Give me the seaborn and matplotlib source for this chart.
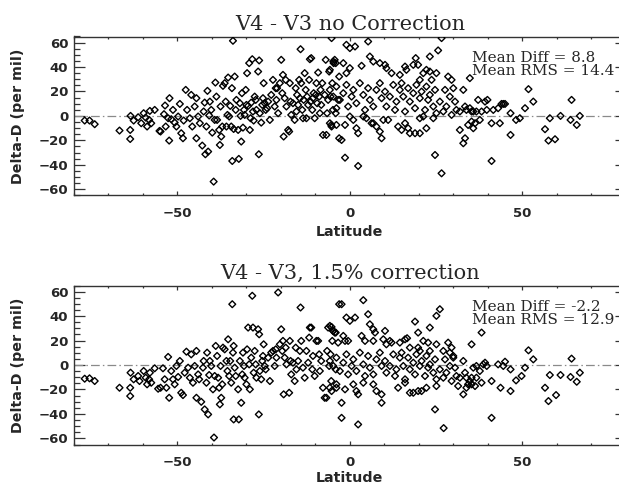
import matplotlib
matplotlib.use("Agg")
import matplotlib.pyplot as plt
import seaborn as sns
import pandas as pd
from matplotlib.ticker import MultipleLocator

# ---------------- data ----------------
lat_top = [
    -76.9, -75.5, -74.0, -66.8, -63.7, -63.7, -63.6, -62.7, -61.4, -60.5,
    -59.8, -59.2, -58.8, -58.2, -57.6, -56.6, -58.0, -55.2, -54.9, -53.9,
    -53.6, -53.4, -52.7, -52.4, -52.3, -51.8, -51.3, -50.8, -50.3, -49.8,
    -49.3, -48.9, -48.4, -48.2, -47.6, -47.2, -46.4, -46.0, -45.7, -45.0,
    -44.5, -44.5, -44.0, -43.5, -42.8, -42.4, -42.1, -41.9, -41.6, -41.3,
    -41.1, -40.8, -40.6, -40.2, -39.9, -39.5, -39.2, -39.0, -38.7, -38.5,
    -37.9, -37.7, -37.5, -37.3, -37.0, -36.8, -36.3, -36.0, -35.8, -35.5,
    -35.3, -35.0, -34.7, -34.4, -34.2, -34.1, -33.9, -33.7, -33.4, -33.1,
    -32.9, -32.4, -32.2, -31.9, -31.7, -31.5, -31.3, -31.0, -30.7, -30.5,
    -30.2, -30.0, -29.8, -29.5, -29.2, -29.0, -28.8, -28.6, -28.3, -28.1,
    -27.9, -27.6, -27.3, -27.1, -26.6, -26.4, -26.3, -26.1, -25.7, -25.4,
    -25.2, -25.0, -24.7, -24.4, -24.0, -23.7, -23.2, -22.8, -22.3, -21.8,
    -21.5, -21.3, -21.1, -20.8, -20.3, -19.9, -19.6, -19.4, -19.2, -18.9,
    -18.6, -18.4, -17.9, -17.6, -17.4, -17.2, -17.0, -16.5, -16.0, -15.7,
    -15.5, -15.3, -15.0, -14.7, -14.5, -14.3, -14.1, -13.8, -13.6, -13.4,
    -13.1, -12.8, -12.6, -12.4, -12.1, -11.8, -11.6, -11.4, -11.2, -10.9,
    -10.7, -10.5, -10.2, -9.9, -9.7, -9.5, -9.2, -8.9, -8.7, -8.5,
    -8.3, -8.0, -7.8, -7.3, -7.0, -6.8, -6.6, -6.3, -6.0, -5.8,
    -5.6, -5.4, -5.1, -4.9, -4.7, -4.4, -4.1, -3.9, -3.4, -3.1,
    -3.1,
    -5.3, -1.0, 0.0, 1.5, 5.3, 26.6, 25.6, 23.2, -4.8, -4.1,
    -1.9, -1.0, 0.0, 3.4, 5.8, 6.8, 8.7, 10.2, 10.6, 12.1,
    14.5, 16.0, 16.4, 18.4, 19.1, 19.8, 21.3, 20.3, 22.2, 23.2,
    23.7, 25.1, 28.5, 29.5, 34.8,
    -5.8, -4.8, -3.9, -2.9, -1.9, -1.0, -0.5, 0.5, 1.0, 1.9,
    2.9, 3.9, 4.4, 5.3, 5.8, 6.8, 7.7, 8.7, 9.2, 10.2,
    10.6, 11.6, 12.6, 13.1, 13.5, 14.5, 15.0, 15.5, 16.0, 16.9,
    17.4, 18.4, 18.9, 19.3, 20.3, 20.8, 21.8, 22.2, 22.7, 23.2,
    24.2, 24.7, 25.1, 26.1, 27.1, 27.6, 28.0, 29.0, 29.5, 30.0,
    30.5, 30.9, 31.9, 32.9, 33.4, 33.8, 34.8, 35.3, 35.8, 36.7,
    37.2,
    -5.8, -5.3, -3.9, -2.4, -1.4, 0.0, 1.0, 1.9, 2.4, 3.9,
    4.8, 6.3, 6.8, 7.7, 8.7, 9.2, 9.7, 11.1, 14.0, 15.0,
    16.0, 17.4, 16.9, 18.9, 20.3, 22.2, 20.3, 21.3, 24.2, 31.9,
    32.9, 33.4, 34.3, 35.3, 35.8, 36.3, 37.7, -1.4, 2.4, 24.7,
    26.6,
    38.2, 39.2, 39.7, 39.9, 41.1, 41.6, 43.0, 43.5, 44.0, 44.5,
    45.0, 46.6, 46.6, 48.2, 49.3, 50.8, 51.8, 53.2, 56.6, 57.6,
    58.0, 59.5, 61.1, 64.3, 64.0, 65.8, 66.7, 41.1,
]
dd_top = [
    -3.8, -3.8, -6.8, -12.0, -11.5, -18.9, 0.0, -3.8, -1.1, -6.0,
    2.2, -1.4, -8.7, -3.3, -6.0, 4.9, 4.1, -12.3, -12.8, 1.4,
    8.5, -8.7, -1.9, -20.2, 14.5, -2.7, 4.9, -5.5, -8.7, -0.5,
    9.8, -14.2, -18.3, -3.8, 21.3, 4.9, -1.9, 17.2, -8.7, 7.7,
    14.5, -18.3, -0.5, -6.0, -24.3, 3.6, 10.9, -31.4, -8.7, 20.5,
    -29.2, 0.3, 11.7, 4.9, -13.7, -53.8, -3.3, 27.3, 15.8, -3.3,
    -11.5, -23.8, 7.7, -16.9, -8.7, 24.6, 26.8, 11.7, -8.7, 0.8,
    31.4, -0.5, 8.2, -8.7, 22.7, -36.9, 61.5, -10.7, 32.2, 4.9,
    13.1, -11.5, -35.2, 10.4, 0.0, -21.0, 18.6, -9.6, 4.9, 0.8,
    21.3, 9.0, 35.0, 8.2, 43.2, -11.5, -1.9, 10.9, 46.4, 3.6,
    -3.8, 15.8, 13.1, 4.9, 36.3, -31.4, 45.4, 2.2, -5.5, 9.0,
    14.5, 26.8, 10.4, 4.9, 6.3, 11.7, -3.3, 17.2, 29.5, 7.7,
    22.7, 13.1, 22.7, 2.2, 26.8, 45.9, 18.6, 33.6, -16.9, 14.5,
    29.5, 7.7, -11.5, -12.8, 26.8, 11.7, 0.8, 10.4, -3.3, 22.7,
    3.6, 17.2, 9.0, 29.5, 14.5, 54.6, 26.8, 4.9, -1.9, 13.1,
    35.0, 21.3, -1.9, 15.8, 9.0, 29.5, 46.4, 11.7, 47.3, 4.9,
    14.5, 18.6, -1.9, 17.2, 26.8, 10.4, 35.5, 15.8, 2.2, 21.3,
    9.0, 26.8, -15.6, 17.2, 45.9, -15.6, 2.2, 13.1, 36.3, 37.7,
    15.8, -7.4, 26.8, 4.9, 43.2, 45.9, 2.2, 6.3, 13.1, -18.3,
    32.2,
    63.7, 58.2, 55.5, 56.8, 60.9, 63.7, 53.6, 48.6, 44.5, 43.2,
    43.2, 35.0, 39.1, 41.0, 48.6, 44.5, 43.2, 41.8, 39.1, 35.0,
    33.6, 40.4, 37.7, 41.8, 47.3, 41.8, 35.0, 29.5, 37.7, 36.3,
    29.5, 35.0, 32.2, 29.5, 30.9,
    21.3, 15.8, 24.0, 13.1, 18.6, 25.4, 7.7, 15.8, 21.3, 10.4,
    26.8, 17.2, 4.9, 22.7, 13.1, 7.7, 21.3, 26.8, 14.5, 19.9,
    7.7, 15.8, 25.4, 4.9, 11.7, 21.3, 26.8, 15.8, 3.6, 22.7,
    11.7, 18.6, 6.3, 25.4, 14.5, 19.9, 4.9, 24.0, 13.1, 17.2,
    7.7, 21.3, 2.2, 11.7, 3.6, 21.3, 7.7, 15.8, 0.8, 22.7,
    11.7, 4.9, 3.6, 21.3, 7.7, 4.9, 6.3, 3.6, 3.6, 3.6,
    13.1,
    -6.0, -8.7, -7.4, -19.7, -7.4, -0.5, -3.3, -10.1, -14.2, -0.5,
    -1.9, -6.0, -6.0, -8.7, -12.8, -18.3, -3.3, -3.3, -8.7, -11.5,
    -6.0, -14.2, -10.1, -14.2, -14.2, -10.1, -1.9, -0.5, -1.9, -11.5,
    -22.4, -18.3, -7.4, -4.6, -10.1, -6.0, -3.3, -34.2, -41.0, -32.0,
    -47.0,
    3.6, 11.7, 4.9, 13.1, -6.0, 4.9, 6.3, -6.0, 9.8, 9.8,
    9.8, 2.2, -15.6, -3.3, -1.9, 6.3, 21.9, 11.7, -10.9, -20.2,
    -1.9, -19.1, 0.0, 13.1, -3.3, -7.4, 0.0, -36.9,
]

lat_bot = [
    -76.9, -75.5, -74.0, -66.8, -63.7, -63.7, -63.6, -62.7, -61.4, -61.0,
    -59.8, -59.2, -58.8, -58.2, -57.6, -56.6, -58.0, -55.6, -54.9, -54.2,
    -53.7, -53.2, -52.7, -52.4, -51.8, -51.3, -50.8, -50.3, -49.8, -49.3,
    -48.9, -48.4, -47.9, -47.4, -46.9, -46.4, -46.0, -45.5, -45.0, -44.5,
    -44.5, -44.0, -43.7, -43.1, -42.6, -42.4, -42.1, -41.6, -41.4, -41.1,
    -40.8, -40.6, -40.2, -39.7, -39.2, -38.9, -38.5, -38.2, -37.9, -37.7,
    -37.5, -37.3, -37.0, -36.8, -36.3, -35.8, -35.5, -35.3, -35.0, -34.7,
    -34.4, -34.1, -33.9, -33.7, -33.7, -33.4, -33.1, -32.4, -32.2, -31.9,
    -31.5, -31.2, -31.0, -30.7, -30.5, -30.0, -29.8, -29.5, -29.2, -29.0,
    -28.6, -28.3, -28.1, -27.9, -27.6, -27.3, -27.1, -26.6, -26.4, -26.3,
    -26.1, -25.7, -25.4, -25.2, -25.0, -24.7, -24.4, -23.7, -23.2, -22.8,
    -22.3, -21.8, -21.5, -21.3, -20.8, -20.3, -19.9, -19.6, -19.4, -19.2,
    -18.9, -18.6, -18.4, -17.6, -17.4, -17.2, -17.0, -16.5, -16.0, -15.7,
    -15.5, -15.0, -14.5, -14.3, -14.1, -13.6, -13.1, -12.6, -12.1, -11.8,
    -11.6, -11.2, -10.9, -10.7, -10.2, -9.7, -9.2, -8.9, -8.7, -8.3,
    -7.8, -7.3, -6.8, -6.6, -6.3, -6.0, -5.8, -5.6, -5.4, -5.1,
    -4.9, -4.4, -4.1, -3.9, -3.4, -3.1,
    -2.4, 3.9, -1.0, 0.0, 1.5, 5.3, 5.8, 6.8, 7.3, 10.2,
    11.6, 18.9, 19.8, 23.2, 25.1, 26.1, -5.3, -4.8, -4.1, -1.9,
    -1.4, -0.5, 3.4, 4.4, 6.8, 9.7, 10.6, 12.1, 14.5, 16.0,
    16.6, 17.4, 19.8, 20.3, 21.3, 22.7, 23.2, 25.1, 27.1, 28.5,
    29.0, 29.5, 30.0, 35.3,
    -5.8, -4.8, -3.9, -2.9, -1.9, -1.0, -0.5, 0.5, 1.0, 1.9,
    2.9, 3.9, 4.4, 5.3, 5.8, 6.8, 7.7, 8.7, 9.2, 10.2,
    10.6, 11.6, 12.6, 13.1, 13.5, 14.5, 15.0, 15.5, 16.0, 16.9,
    17.4, 18.4, 18.9, 19.3, 20.3, 20.8, 21.8, 22.2, 22.7, 23.2,
    24.2, 24.7, 25.1, 26.1, 27.1, 27.6, 28.0, 29.0, 29.5, 30.0,
    30.5, 30.9, 31.9, 32.9, 33.4, 33.8, 34.8, 35.3, 35.8, 36.7,
    37.7,
    -5.8, -5.3, -3.9, -2.4, -1.4, 1.0, 1.9, 2.4, 3.9, 6.8,
    7.7, 9.2, 9.2, 14.0, 16.0, 17.4, 18.4, 19.8, 20.8, 22.2,
    25.1, 31.4, 32.9, 33.8, 34.3, 35.3, 36.3, 36.7, -2.4, 2.4,
    24.7,
    38.2, 38.7, 39.2, 39.7, 38.2, 41.1, 43.0, 43.7, 44.5, 45.0,
    46.6, 46.6, 48.2, 49.8, 50.8, 51.8, 53.2, 56.6, 57.6, 58.0,
    59.8, 61.1, 64.3, 64.0, 65.8, 66.7, 41.1, -39.4, 27.2,
]
dd_bot = [
    -11.2, -10.9, -13.1, -18.6, -18.6, -25.4, -6.3, -11.7, -9.0, -13.1,
    -4.9, -10.4, -15.8, -11.7, -14.5, -2.7, -6.3, -19.4, -18.6, -2.7,
    -11.7, -18.6, 6.6, -26.8, -4.9, -11.7, -15.8, -0.8, -9.8, 3.3,
    -22.7, -24.6, -6.3, 10.9, -2.2, -10.4, 8.7, -14.5, -0.8, 11.5,
    -26.8, -7.7, -11.7, -30.1, -2.2, 3.3, -36.3, -14.5, 10.1, -40.4,
    -8.2, 3.3, -0.8, -19.9, -9.0, 15.6, 7.4, -10.4, -18.6, -32.2,
    -0.8, -26.8, -15.8, 14.2, 12.8, 3.3, -4.9, 21.0, -9.0, 3.3,
    -14.5, 49.7, 10.1, 15.6, -44.5, -2.2, -9.0, -19.9, -44.5, 3.3,
    -30.9, -7.7, 10.1, -0.8, -10.4, -15.8, 12.8, 30.6, 0.5, -19.9,
    6.0, 56.6, 30.6, -6.3, 11.5, 0.5, -10.4, 29.2, -40.4, 25.1,
    -4.9, -11.7, 3.3, 7.4, 16.9, -0.8, -3.6, 6.0, -13.1, 10.1,
    11.5, -0.8, 12.8, 6.0, 59.3, 16.9, 29.2, 11.5, 19.7, -24.0,
    6.0, 14.2, 0.5, -22.7, 19.7, 3.3, -7.7, 1.9, -13.1, 14.2,
    -3.6, 3.3, 11.5, 47.0, 19.7, -2.2, -10.4, 11.5, 1.9, 22.4,
    30.6, 30.6, -3.6, 7.4, -9.0, 19.7, 19.7, 8.7, -4.9, 3.3,
    -18.6, -26.8, -26.8, 11.5, 30.6, -0.8, 32.0, 8.7, -13.1, 19.7,
    27.9, 26.5, -3.6, -18.6, 18.3, 49.7,
    49.7, 53.0, 38.8, 36.1, 38.8, 41.5, 33.3, 29.2, 26.5, 27.9,
    19.7, 35.5, 26.5, 30.6, 40.2, 45.6, 31.1, 27.9, 26.5, 23.8,
    19.7, 19.7, 23.8, 19.7, 19.7, 21.0, 16.9, 18.3, 18.3, 21.0,
    21.9, 14.2, 14.2, 11.5, 19.7, 18.3, 11.5, 16.9, 11.5, 18.3,
    10.1, 14.2, 7.4, 16.9,
    3.3, -0.8, 6.0, -4.9, 1.9, 8.7, -7.7, -0.8, 4.6, -4.9,
    10.1, 0.5, -9.0, 7.4, -2.2, -7.7, 4.6, 10.1, -0.8, 3.3,
    -6.3, -0.8, 8.7, -9.0, -3.6, 6.0, 10.1, -0.8, -11.7, 6.0,
    -3.6, 1.9, -7.7, 8.7, -0.8, 3.3, -9.0, 7.4, -2.2, 0.5,
    -6.3, 4.6, -11.7, -3.6, -10.4, 4.6, -6.3, -0.8, -13.1, 6.0,
    -2.2, -9.0, -10.4, 3.3, -6.3, -10.4, -13.1, -10.4, -2.2, -0.8,
    -4.9,
    -18.6, -21.3, -15.8, -30.9, -19.9, -15.8, -21.3, -24.0, -14.5, -15.8,
    -21.3, -24.0, -30.9, -18.6, -14.5, -22.7, -22.7, -21.3, -21.3, -18.6,
    -17.2, -17.2, -24.0, -18.6, -15.8, -15.8, -17.2, -10.4, -43.2, -48.6,
    -36.3,
    26.5, 0.5, 1.9, -0.8, -14.5, -13.1, 0.5, -18.6, -0.8, 2.7,
    -3.6, -21.3, -12.6, -9.0, -2.2, 12.0, 4.6, -18.6, -29.5, -8.2,
    -24.6, -8.2, 5.2, -9.8, -13.7, -6.3, -43.2, -59.3, -51.6,
]

titles = ["V4 - V3 no Correction", "V4 - V3, 1.5% correction"]
mean_diff = ["8.8", "-2.2"]
mean_rms = ["14.4", "12.9"]
x_label = "Latitude"
y_label = "Delta-D (per mil)"

# ---------------- styling ----------------
sns.set_style("ticks")
plt.rcParams["font.family"] = ["DejaVu Sans"]
plt.rcParams["font.weight"] = "bold"

W, H = 619, 487
fig = plt.figure(figsize=(W / 100, H / 100), dpi=100)
fig.patch.set_facecolor("white")

def make_axes(top_px, bottom_px):
    return fig.add_axes([74 / W, 1 - bottom_px / H, (625.7 - 74) / W,
                         (bottom_px - top_px) / H])

axes = [make_axes(36.5, 195.3), make_axes(285.5, 444.5)]
datasets = [(lat_top, dd_top), (lat_bot, dd_bot)]
xlabel_y = [-0.19, -0.168]

for i, ax in enumerate(axes):
    lat, dd = datasets[i]
    df = pd.DataFrame({"lat": lat, "dd": dd})
    ax.axhline(0, color="#8a8a8a", lw=0.9, linestyle=(0, (7, 2.5, 1.2, 2.5)),
               zorder=1)
    sns.scatterplot(data=df, x="lat", y="dd", marker="D", s=12, ax=ax,
                    linewidth=1.0, zorder=3, legend=False)
    pts = ax.collections[-1]
    pts.set_facecolor("none")
    pts.set_edgecolor("black")
    pts.set_clip_on(True)

    ax.set_xlim(-80, 80)
    ax.set_ylim(-65, 65)
    ax.xaxis.set_major_locator(MultipleLocator(50))
    ax.xaxis.set_minor_locator(MultipleLocator(10))
    ax.yaxis.set_major_locator(MultipleLocator(20))
    ax.yaxis.set_minor_locator(MultipleLocator(5))
    ax.tick_params(which="both", direction="in", top=True, right=True,
                   color="#333333", width=0.9)
    ax.tick_params(axis="x", which="major", length=2.6, pad=8.5,
                   labelsize=9.5)
    ax.tick_params(axis="x", which="minor", length=1.6)
    ax.tick_params(axis="y", which="major", length=8, pad=4.2,
                   labelsize=9.5)
    ax.tick_params(axis="y", which="minor", length=4)
    for sp in ax.spines.values():
        sp.set_color("#333333")
        sp.set_linewidth(1.0)

    ax.set_xlabel(x_label, fontsize=10.3, fontweight="bold")
    ax.set_ylabel(y_label, fontsize=10.3, fontweight="bold")
    ax.xaxis.set_label_coords(0.5, xlabel_y[i])
    ax.yaxis.set_label_coords(-0.089, 0.5)
    ax.set_title(titles[i], family="DejaVu Serif", fontsize=15,
                 fontweight="normal", pad=5.0)
    ax.text(35.4, 47.5, "Mean Diff = " + mean_diff[i], family="DejaVu Serif",
            fontsize=11, fontweight="normal", ha="left", va="center")
    ax.text(35.4, 37.0, "Mean RMS = " + mean_rms[i], family="DejaVu Serif",
            fontsize=11, fontweight="normal", ha="left", va="center")

fig.savefig("out.png", dpi=100, facecolor="white")
